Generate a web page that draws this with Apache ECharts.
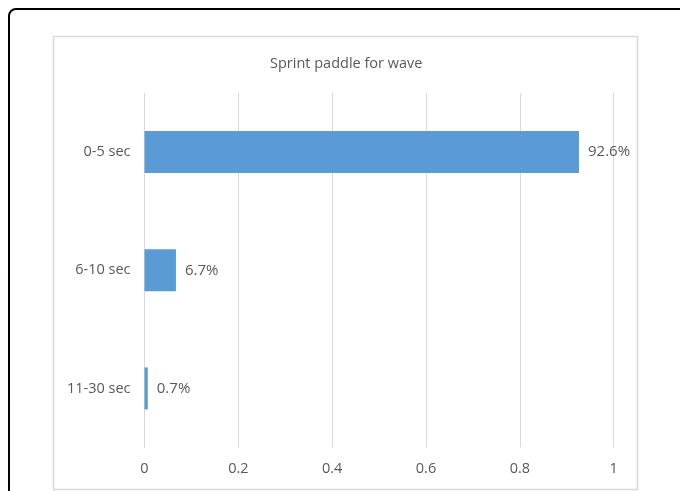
<!DOCTYPE html>
<html>
<head>
<meta charset="utf-8">
<script src="https://cdn.jsdelivr.net/npm/echarts@6/dist/echarts.min.js"></script>
<style>
  html, body { margin: 0; padding: 0; background: #fff; }
  #chart { width: 680px; height: 491px; }
</style>
</head>
<body>
<div id="chart"></div>
<script>
// Sprint paddle duration shares
const categories = ['11-30 sec', '6-10 sec', '0-5 sec'];
const shares = [0.007, 0.067, 0.926];
const tickValues = [0, 0.2, 0.4, 0.6, 0.8, 1];

const FONT = '"Open Sans", Lato, sans-serif';
const TEXT = '#595959';
const GRID = '#d9d9d9';

const chart = echarts.init(document.getElementById('chart'), null, { renderer: 'canvas' });

chart.setOption({
  animation: false,
  backgroundColor: '#fff',
  title: {
    text: 'Sprint paddle for wave',
    left: 270,
    top: 56,
    padding: 0,
    textStyle: { color: TEXT, fontSize: 14.5, fontWeight: 'normal', fontFamily: FONT }
  },
  graphic: [
    {
      type: 'rect',
      shape: { x: 9, y: 9, width: 690, height: 500, r: 7 },
      style: { fill: 'none', stroke: '#000', lineWidth: 2 },
      silent: true, z: 100
    },
    {
      type: 'rect',
      shape: { x: 53.5, y: 36.5, width: 584, height: 453 },
      style: { fill: 'none', stroke: GRID, lineWidth: 1.5 },
      silent: true, z: 100
    }
  ],
  grid: { left: 144.5, right: 66.3, top: 93, bottom: 43.5, containLabel: false },
  xAxis: {
    type: 'value',
    min: 0,
    max: 1,
    interval: 0.2,
    axisLine: { show: false },
    axisTick: { show: false },
    splitLine: { show: true, lineStyle: { color: GRID, width: 1 } },
    axisLabel: {
      color: TEXT, fontSize: 14.5, fontFamily: FONT, margin: 14,
      formatter: v => {
        const t = tickValues.find(x => Math.abs(x - v) < 1e-9);
        return t === undefined ? '' : String(t);
      }
    }
  },
  yAxis: {
    type: 'category',
    data: categories,
    axisLine: { show: true, lineStyle: { color: GRID, width: 1 } },
    axisTick: { show: false },
    axisLabel: { color: TEXT, fontSize: 14.5, fontFamily: FONT, margin: 14 }
  },
  series: [{
    type: 'bar',
    data: shares,
    barWidth: 42,
    itemStyle: { color: '#5b9bd5' },
    label: {
      show: true,
      position: 'right',
      distance: 9,
      color: TEXT,
      fontSize: 15,
      fontFamily: FONT,
      formatter: p => (p.value * 100).toFixed(1) + '%'
    }
  }]
});
</script>
</body>
</html>
